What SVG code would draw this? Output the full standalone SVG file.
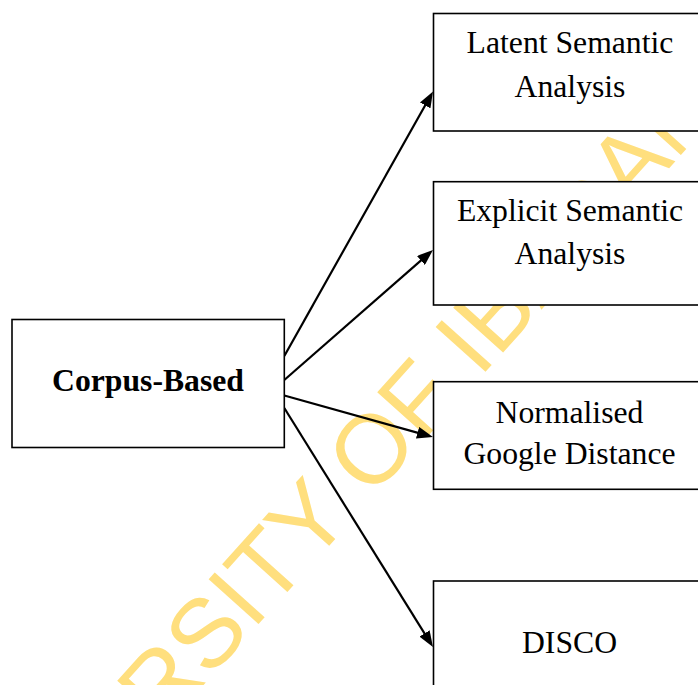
<svg xmlns="http://www.w3.org/2000/svg" width="698" height="685" viewBox="0 0 698 685">
<style>
.box{fill:#ffffff;stroke:#000000;stroke-width:1.6}
.lbl{font-family:"Liberation Serif","Times New Roman",serif;font-size:31.7px;fill:#000000;text-anchor:middle}
.bold{font-weight:bold}
.conn{stroke:#000000;stroke-width:2.2;fill:none;marker-end:url(#arrow)}
.wm{font-family:"Liberation Sans",Arial,sans-serif;font-size:97.5px;fill:#FFDF7E}
</style>
<defs>
<marker id="arrow" viewBox="0 0 16 12" refX="7" refY="6" markerWidth="16" markerHeight="12" markerUnits="userSpaceOnUse" orient="auto">
<path d="M0,0 L16,6 L0,12 z" fill="#000000"/>
</marker>
</defs>
<rect width="698" height="685" fill="#ffffff"/>
<g id="watermark">
<text class="wm" transform="translate(480.8,377.2) rotate(-48)" x="-774.7" y="0">UNIVERSITY OF IBADAN</text>
</g>
<g id="connectors">
<line class="conn" x1="284.3" y1="356" x2="428.6" y2="99.3"/>
<line class="conn" x1="284.3" y1="380" x2="426.2" y2="255.9"/>
<line class="conn" x1="284.3" y1="395.5" x2="424.3" y2="434.6"/>
<line class="conn" x1="284.3" y1="408" x2="428.2" y2="639.4"/>
</g>
<g id="corpus-based">
<rect class="box" x="12" y="319.5" width="272.3" height="128"/>
<text class="lbl bold" x="148" y="391">Corpus-Based</text>
</g>
<g id="lsa">
<rect class="box" x="433.5" y="13.5" width="300" height="117.5"/>
<text class="lbl" x="570" y="53">Latent Semantic</text>
<text class="lbl" x="570" y="97">Analysis</text>
</g>
<g id="esa">
<rect class="box" x="433.5" y="181.7" width="300" height="123.3"/>
<text class="lbl" x="570" y="220.5">Explicit Semantic</text>
<text class="lbl" x="570" y="264">Analysis</text>
</g>
<g id="ngd">
<rect class="box" x="433.5" y="381.7" width="300" height="107.6"/>
<text class="lbl" x="569.5" y="422.5">Normalised</text>
<text class="lbl" x="569.5" y="463.5">Google Distance</text>
</g>
<g id="disco">
<rect class="box" x="433.5" y="581" width="300" height="130"/>
<text class="lbl" x="569.5" y="653">DISCO</text>
</g>
</svg>
